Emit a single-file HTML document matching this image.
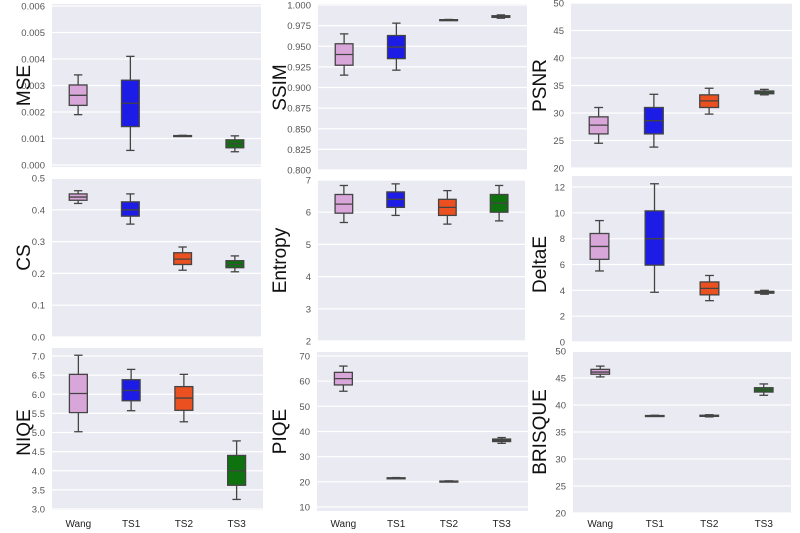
<!DOCTYPE html>
<html><head><meta charset="utf-8"><style>
html,body{margin:0;padding:0;background:#fff;}
svg{display:block;font-family:"Liberation Sans","DejaVu Sans",sans-serif;}
</style></head><body>
<svg id="chart" width="800" height="533" viewBox="0 0 800 533" xmlns="http://www.w3.org/2000/svg"></svg>
<script>
const categories = ["Wang","TS1","TS2","TS3"];
const seriesColors = ["#d9a6d9","#1c1ce6","#ea5020","#0e720e"];
const metricNames = ["MSE","SSIM","PSNR","CS","Entropy","DeltaE","NIQE","PIQE","BRISQUE"];
// [min, q1, median, q3, max] per category
const mseValues = [[0.0019,0.00225,0.00263,0.00302,0.0034],[0.00055,0.00145,0.00233,0.0032,0.0041],[0.00108,0.00109,0.0011,0.00111,0.00112],[0.0005,0.00065,0.0008,0.00095,0.0011]];
const ssimValues = [[0.915,0.927,0.940,0.953,0.965],[0.921,0.935,0.949,0.963,0.978],[0.9815,0.9818,0.982,0.9822,0.9825],[0.984,0.985,0.986,0.987,0.988]];
const psnrValues = [[24.5,26.2,27.8,29.3,31],[23.8,26.2,28.6,31,33.4],[29.8,31,32.2,33.3,34.5],[33.3,33.5,33.8,34,34.3]];
const csValues = [[0.42,0.43,0.44,0.45,0.46],[0.355,0.38,0.40,0.425,0.45],[0.21,0.228,0.245,0.265,0.283],[0.205,0.218,0.228,0.24,0.255]];
const entropyValues = [[5.68,5.97,6.25,6.55,6.83],[5.9,6.15,6.4,6.63,6.88],[5.63,5.9,6.15,6.4,6.67],[5.73,6.0,6.28,6.55,6.83]];
const deltaEValues = [[5.5,6.4,7.4,8.4,9.4],[3.85,5.95,8.0,10.15,12.25],[3.2,3.65,4.15,4.65,5.15],[3.7,3.78,3.85,3.92,4.0]];
const niqeValues = [[5.02,5.52,6.02,6.52,7.02],[5.57,5.83,6.1,6.38,6.65],[5.28,5.58,5.9,6.2,6.52],[3.25,3.62,4.0,4.4,4.78]];
const piqeValues = [[56,58.5,61,63.5,66],[21.3,21.4,21.5,21.6,21.7],[20,20.1,20.2,20.3,20.4],[35.3,36,36.5,37,37.6]];
const brisqueValues = [[45.2,45.7,46.1,46.6,47.2],[37.9,37.95,38,38.05,38.1],[37.8,37.9,38,38.1,38.2],[41.8,42.4,42.8,43.2,43.9]];
const mseTicks = ["0.000","0.001","0.002","0.003","0.004","0.005","0.006"];
const ssimTicks = ["0.800","0.825","0.850","0.875","0.900","0.925","0.950","0.975","1.000"];
const psnrTicks = ["20","25","30","35","40","45","50"];
const csTicks = ["0.0","0.1","0.2","0.3","0.4","0.5"];
const entropyTicks = ["2","3","4","5","6","7"];
const deltaETicks = ["0","2","4","6","8","10","12"];
const niqeTicks = ["3.0","3.5","4.0","4.5","5.0","5.5","6.0","6.5","7.0"];
const piqeTicks = ["10","20","30","40","50","60","70"];
const brisqueTicks = ["20","25","30","35","40","45","50"];

const allValues=[mseValues,ssimValues,psnrValues,csValues,entropyValues,deltaEValues,niqeValues,piqeValues,brisqueValues];
const allTicks=[mseTicks,ssimTicks,psnrTicks,csTicks,entropyTicks,deltaETicks,niqeTicks,piqeTicks,brisqueTicks];
const layout=[
 {x0:52,x1:261,lo:0,hi:0.006,pLo:165,pHi:6,bt:4,bb:167,lx:30},
 {x0:318,x1:527,lo:0.8,hi:1.0,pLo:170,pHi:5,bt:4,bb:170,lx:286},
 {x0:571,x1:792,lo:20,hi:50,pLo:168,pHi:3,bt:3,bb:168,lx:546},
 {x0:52,x1:261,lo:0,hi:0.5,pLo:337,pHi:178,bt:179,bb:337,lx:30},
 {x0:318,x1:525,lo:2,hi:7,pLo:341,pHi:180,bt:180,bb:341,lx:286},
 {x0:572,x1:792,lo:0,hi:12,pLo:342,pHi:187,bt:176,bb:342,lx:546},
 {x0:52,x1:263,lo:3,hi:7,pLo:509,pHi:356,bt:348,bb:510,lx:30},
 {x0:317,x1:528,lo:10,hi:70,pLo:507,pHi:356,bt:352,bb:511,lx:286},
 {x0:573,x1:791,lo:20,hi:50,pLo:513,pHi:351,bt:352,bb:513,lx:546}
];
const NS="http://www.w3.org/2000/svg";
const svg=document.getElementById('chart');
function mk(tag,attrs,parent){const e=document.createElementNS(NS,tag);for(const k in attrs)e.setAttribute(k,attrs[k]);(parent||svg).appendChild(e);return e;}
layout.forEach((L,pi)=>{
  const g=mk('g',{});
  
  
  const yS=v=>L.pLo+(v-L.lo)/(L.hi-L.lo)*(L.pHi-L.pLo);
  const bg=mk('rect',{x:L.x0,y:L.bt,width:L.x1-L.x0,height:L.bb-L.bt,fill:'#eaeaf2'},g);
  
  
  allTicks[pi].forEach(t=>{
    const v=parseFloat(t), y=yS(v);
    const gl=mk('line',{x1:L.x0,x2:L.x1,y1:y,y2:y,stroke:'#fff','stroke-width':1.2},g);
    
    
    const tl=mk('text',{x:L.x0-7,y:y+3.5,'text-anchor':'end','font-size':'9.5',fill:'#555'},g);
    tl.textContent=t;
    
    
  });
  const yl=mk('text',{x:L.lx,y:(L.pLo+L.pHi)/2,transform:`rotate(-90 ${L.lx} ${(L.pLo+L.pHi)/2})`,'text-anchor':'middle','font-size':'19',fill:'#111'},g);
  yl.textContent=metricNames[pi];
  
  
  const bw=(L.x1-L.x0)/4;
  allValues[pi].forEach((d,ci)=>{
    const cx=L.x0+(ci+0.5)*bw, hw=bw*0.17, cw=bw*0.08;
    const bg2=mk('g',{},g);
    
    
    const ln={stroke:'#444','stroke-width':1.3};
    mk('line',Object.assign({x1:cx,x2:cx,y1:yS(d[0]),y2:yS(d[1])},ln),bg2);
    mk('line',Object.assign({x1:cx,x2:cx,y1:yS(d[3]),y2:yS(d[4])},ln),bg2);
    mk('line',Object.assign({x1:cx-cw,x2:cx+cw,y1:yS(d[0]),y2:yS(d[0])},ln),bg2);
    mk('line',Object.assign({x1:cx-cw,x2:cx+cw,y1:yS(d[4]),y2:yS(d[4])},ln),bg2);
    const top=yS(d[3]),bot=yS(d[1]);
    mk('rect',{x:cx-hw,y:top,width:2*hw,height:Math.max(bot-top,1),fill:seriesColors[ci],stroke:'#444','stroke-width':1.3},bg2);
    mk('line',Object.assign({x1:cx-hw,x2:cx+hw,y1:yS(d[2]),y2:yS(d[2])},ln),bg2);
    if(pi>=6){
      const xl=mk('text',{x:cx,y:527,'text-anchor':'middle','font-size':'10',fill:'#222'},g);
      xl.textContent=categories[ci];
      
      
    }
  });
});
</script>
</body></html>
